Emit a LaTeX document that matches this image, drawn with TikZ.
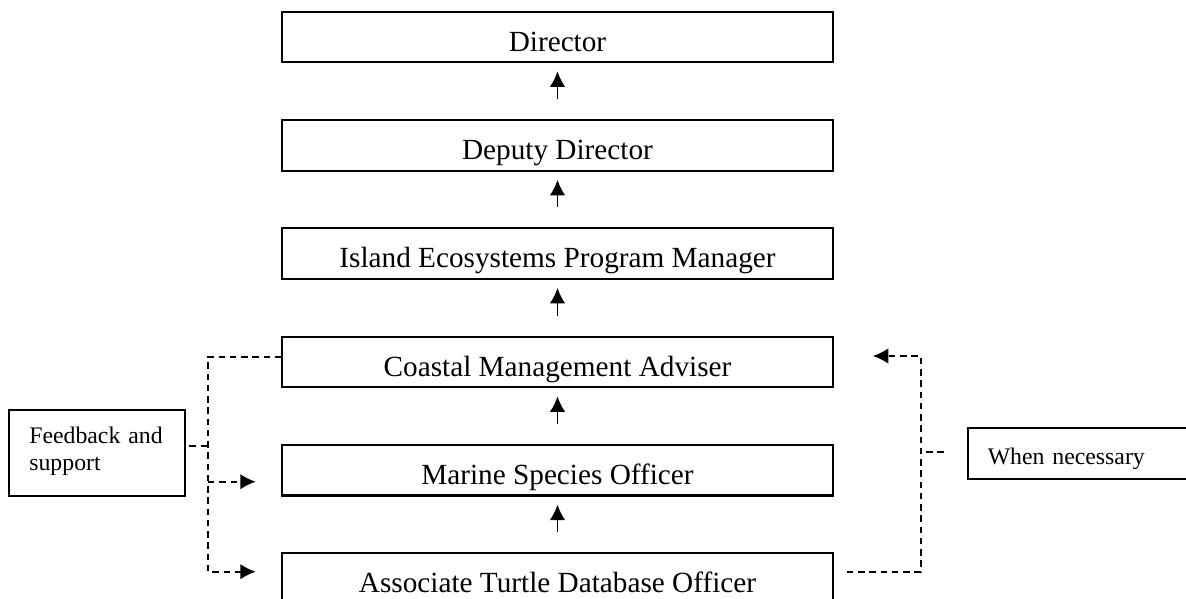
\documentclass[tikz,border=0pt]{standalone}
\usepackage{fontspec}
\setmainfont{Liberation Serif}
\usetikzlibrary{arrows.meta}

\begin{document}
\begin{tikzpicture}[x=0.025cm, y=-0.025cm, >={Latex[length=11pt,width=11pt]},
	post/.style={draw, line width=1.5pt, inner sep=0pt, minimum width=13.75cm, text height=0.99cm, text depth=0.275cm, font=\fontsize{20.8}{24}\selectfont},
	note/.style={draw, line width=1.5pt, inner ysep=0pt, inner xsep=0.5cm, align=left, anchor=north west, font=\fontsize{16.9}{19.2}\selectfont},
	fb/.style={dash pattern=on 4.6pt off 3.4pt, line width=1.3pt}]
	\useasboundingbox (0,0) rectangle (1186,599);
	\clip (0,0) rectangle (1186,599);
	\node[post] (director)  at (557.5,37)    {Director};
	\node[post] (deputy)    at (557.5,145.5) {Deputy Director};
	\node[post] (island)    at (557.5,253.5) {Island Ecosystems Program Manager};
	\node[post] (coastal)   at (557.5,362)   {Coastal Management Adviser};
	\node[post] (marine)    at (557.5,470.2) {Marine Species Officer};
	\node[post] (associate) at (557.5,578.5) {Associate Turtle Database Officer};
	\node[note, text width=3.39cm, text height=0.8175cm, text depth=1.325cm] (feedback) at (8.3,409.3) {Feedback and\\support};
	\node[note, text width=4.82cm, text height=0.9cm, text depth=0.375cm] (when) at (966.7,427.3) {When necessary};
	\coordinate (ltop) at (208,357);
	\coordinate (lfb)  at (208,445.7);
	\coordinate (lmid) at (208,481.7);
	\coordinate (lbot) at (208,571.7);
	\coordinate (rtop) at (920.7,356);
	\coordinate (rfb)  at (920.7,452.3);
	\coordinate (rbot) at (920.7,571.7);
	\foreach \a/\b in {deputy/director, island/deputy, coastal/island, marine/coastal, associate/marine}
		\draw[->, line width=1.3pt, shorten <=0.5cm, shorten >=0.2cm] (\a.north) -- (\b.south);
	\draw[fb, ->, shorten >=0.64cm] (ltop -| coastal.west) -- (ltop) -- (lbot) -- (lbot -| associate.west);
	\draw[fb, ->, shorten >=0.64cm] (lmid) -- (lmid -| marine.west);
	\draw[fb, shorten <=0.08cm] (lfb -| feedback.east) -- (lfb);
	\draw[fb, ->, shorten <=0.33cm, shorten >=0.98cm] (rbot -| associate.east) -- (rbot) -- (rtop) -- (rtop -| coastal.east);
	\draw[fb, shorten <=0.57cm] (rfb -| when.west) -- (rfb);
\end{tikzpicture}
\end{document}
